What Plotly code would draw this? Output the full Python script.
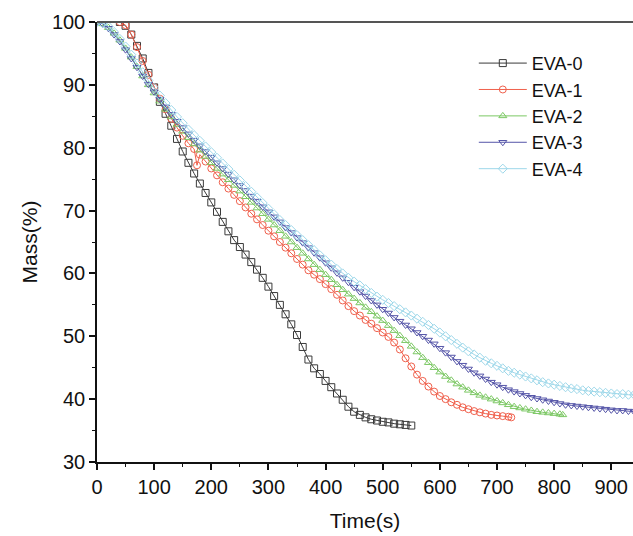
import plotly.graph_objects as go

# mass loss curves (time in s, mass in %)
t_eva0 = list(range(40, 551, 10))
m_eva0 = [100.0, 99.4, 98.0, 96.2, 94.2, 91.9, 89.6, 87.3, 85.4, 83.5,
          81.4, 79.4, 77.6, 75.9, 74.3, 72.8, 71.3, 69.8, 68.2, 66.7,
          65.3, 64.2, 63.0, 61.8, 60.6, 59.3, 57.9, 56.4, 55.0, 53.5,
          51.9, 50.2, 48.3, 46.3, 44.9, 44.0, 42.9, 41.9, 40.9, 39.9,
          38.8, 38.0, 37.5, 37.1, 36.8, 36.6, 36.4, 36.3, 36.1, 36.0,
          35.9, 35.8]

t_eva1 = list(range(40, 171, 10)) + [175] + list(range(180, 721, 10)) + [725]
m_eva1 = [100.0, 99.5, 98.0, 96.0, 93.8, 91.6, 89.6, 87.8, 86.1, 84.6,
          83.2, 81.9, 80.7, 79.8,
          77.2,
          78.9, 77.8, 76.7, 75.6, 74.5, 73.5, 72.5, 71.5, 70.5, 69.5,
          68.6, 67.7, 66.8, 65.9, 65.0, 64.1, 63.2, 62.3, 61.4, 60.5,
          59.8, 59.1, 58.3, 57.5, 56.6, 55.7, 54.8, 54.0, 53.3, 52.6,
          52.0, 51.3, 50.6, 49.9, 49.0, 47.9, 46.5, 45.2, 43.9, 42.9,
          42.0, 41.2, 40.5, 40.0, 39.5, 39.1, 38.7, 38.4, 38.1, 37.9,
          37.7, 37.5, 37.4, 37.3, 37.2,
          37.1]

t_eva2 = list(range(0, 811, 10)) + [815]
m_eva2 = [100.0, 99.7, 99.1, 98.2, 97.1, 95.8, 94.4, 92.9, 91.4, 90.0,
          88.7, 87.4, 86.1, 84.9, 83.7, 82.6, 81.6, 80.6, 79.6, 78.6,
          77.6, 76.7, 75.8, 74.9, 74.0, 73.1, 72.2, 71.3, 70.4, 69.5,
          68.6, 67.7, 66.8, 65.9, 65.0, 64.1, 63.2, 62.3, 61.4, 60.6,
          59.8, 59.0, 58.2, 57.4, 56.7, 56.0, 55.3, 54.6, 53.9, 53.2,
          52.5, 51.7, 50.9, 50.1, 49.3, 48.4, 47.5, 46.6, 45.8, 45.0,
          44.3, 43.6, 43.0, 42.4, 41.9, 41.4, 41.0, 40.6, 40.3, 40.0,
          39.7, 39.4, 39.1, 38.8, 38.6, 38.4, 38.2, 38.0, 37.9, 37.8,
          37.7, 37.6, 37.5]

t_eva3 = list(range(0, 941, 10))
m_eva3 = [100.0, 99.7, 99.0, 98.0, 96.9, 95.6, 94.2, 92.8, 91.4, 90.1,
          88.9, 87.7, 86.5, 85.3, 84.2, 83.2, 82.2, 81.2, 80.3, 79.4,
          78.5, 77.6, 76.7, 75.8, 74.9, 74.0, 73.2, 72.3, 71.5, 70.6,
          69.8, 69.0, 68.2, 67.3, 66.5, 65.7, 64.9, 64.1, 63.3, 62.5,
          61.7, 60.9, 60.1, 59.3, 58.6, 57.8, 57.1, 56.4, 55.7, 55.0,
          54.3, 53.7, 53.0, 52.4, 51.8, 51.2, 50.6, 50.0, 49.4, 48.8,
          48.1, 47.4, 46.7, 46.0, 45.4, 44.8, 44.2, 43.7, 43.2, 42.7,
          42.3, 41.9, 41.5, 41.2, 40.9, 40.6, 40.3, 40.1, 39.9, 39.7,
          39.5, 39.3, 39.1, 39.0, 38.9, 38.8, 38.7, 38.6, 38.5, 38.4,
          38.3, 38.2, 38.2, 38.1, 38.0]

t_eva4 = list(range(0, 941, 10))
m_eva4 = [100.0, 99.8, 99.3, 98.4, 97.3, 96.1, 94.8, 93.4, 92.0, 90.7,
          89.5, 88.3, 87.1, 86.0, 84.9, 83.9, 82.9, 82.0, 81.1, 80.2,
          79.3, 78.4, 77.5, 76.6, 75.7, 74.8, 73.9, 73.0, 72.1, 71.2,
          70.3, 69.4, 68.5, 67.7, 66.9, 66.1, 65.3, 64.5, 63.7, 62.9,
          62.1, 61.4, 60.7, 60.0, 59.3, 58.7, 58.1, 57.5, 56.9, 56.3,
          55.8, 55.3, 54.8, 54.3, 53.8, 53.3, 52.8, 52.3, 51.8, 51.2,
          50.6, 50.0, 49.4, 48.8, 48.2, 47.6, 47.1, 46.6, 46.1, 45.7,
          45.3, 44.9, 44.5, 44.2, 43.9, 43.6, 43.3, 43.0, 42.7, 42.5,
          42.3, 42.1, 41.9, 41.7, 41.6, 41.4, 41.3, 41.2, 41.1, 41.0,
          40.9, 40.8, 40.8, 40.7, 40.7]

series = [
    ("EVA-0", t_eva0, m_eva0, "#3a3a3a", "square-open"),
    ("EVA-1", t_eva1, m_eva1, "#f0604c", "circle-open"),
    ("EVA-2", t_eva2, m_eva2, "#7cc864", "triangle-up-open"),
    ("EVA-3", t_eva3, m_eva3, "#5555a8", "triangle-down-open"),
    ("EVA-4", t_eva4, m_eva4, "#9ed8ea", "diamond-open"),
]

fig = go.Figure()
for name, t, m, color, symbol in series:
    fig.add_trace(go.Scatter(
        x=t, y=m, name=name, mode="lines+markers",
        line=dict(color=color, width=1),
        marker=dict(symbol=symbol, size=7, color=color, line=dict(width=1, color=color)),
    ))

font_name = "Liberation Sans, Arial, sans-serif"

fig.update_layout(
    width=633, height=536,
    margin=dict(l=97, r=0, t=22, b=74),
    plot_bgcolor="white", paper_bgcolor="white",
    font=dict(family=font_name, size=20, color="#111"),
    showlegend=True,
    legend=dict(
        x=0.703, y=0.948, xanchor="left", yanchor="top",
        bgcolor="rgba(0,0,0,0)", font=dict(size=18, color="#111"),
        itemwidth=48, tracegroupgap=0,
    ),
    xaxis=dict(
        range=[0, 938], dtick=100, tick0=0,
        showgrid=False, zeroline=False,
        showline=True, linecolor="#111", linewidth=1.5,
        ticks="outside", ticklen=6, tickwidth=1.5, tickcolor="#111",
        minor=dict(dtick=50, ticks="outside", ticklen=3, tickcolor="#111", tickwidth=1.2),
        title=dict(text="Time(s)", font=dict(size=21), standoff=17),
    ),
    yaxis=dict(
        range=[30, 100], dtick=10, tick0=30,
        showgrid=False, zeroline=False,
        showline=True, linecolor="#111", linewidth=1.5,
        ticks="outside", ticklen=6, tickwidth=1.5, tickcolor="#111",
        minor=dict(dtick=5, ticks="outside", ticklen=3, tickcolor="#111", tickwidth=1.2),
        title=dict(text="Mass(%)", font=dict(size=21), standoff=9),
    ),
    shapes=[dict(type="line", xref="paper", yref="paper", x0=0, x1=1, y0=1, y1=1,
                 line=dict(color="#555", width=2))],
)

# drop the default page margin so the figure fills the window exactly
fig.write_html(
    "out.html",
    config={"displayModeBar": False},
    post_script="document.body.style.margin='0';document.body.style.overflow='hidden';",
)
